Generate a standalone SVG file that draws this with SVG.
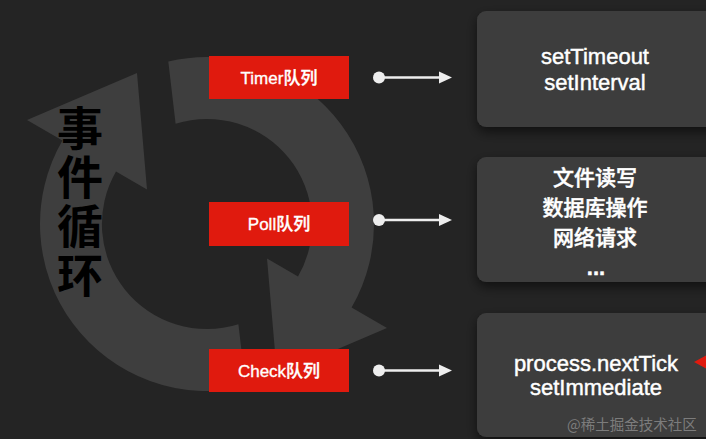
<svg xmlns="http://www.w3.org/2000/svg" xmlns:xlink="http://www.w3.org/1999/xlink" width="706" height="439" viewBox="0 0 706 439">
  <style>
    .bg { fill: #242424; }
    .ring { fill: #3e3e3e; }
    .queue { fill: #e01a0e; }
    .qtext { fill: #ffffff; stroke: #ffffff; stroke-width: 0.35; font-family: "Liberation Sans", "Noto Sans CJK SC", sans-serif; font-size: 17px; font-weight: 500; text-anchor: middle; }
    .card { fill: #3d3d3d; filter: url(#shadow); }
    .ctext { fill: #ffffff; stroke: #ffffff; stroke-width: 0.45; font-family: "Liberation Sans", "Noto Sans CJK SC", sans-serif; font-size: 22px; font-weight: 500; text-anchor: middle; }
    .cjk { font-size: 21px; }
    .dots { font-weight: 700; }
    .title { fill: #000000; font-family: "Noto Sans CJK SC", sans-serif; font-size: 46px; font-weight: 700; writing-mode: tb; letter-spacing: 3px; }
    .conn { stroke: #eeeeee; stroke-width: 2.5; fill: none; marker-start: url(#dot); marker-end: url(#arrow); }
    .mark { fill: #eeeeee; }
    .wm { fill: #7c7c7c; font-family: "Noto Sans CJK SC", sans-serif; font-size: 14.5px; }
  </style>
  <defs>
    <filter id="shadow" x="-10%" y="-20%" width="130%" height="150%">
      <feDropShadow dx="0" dy="5" stdDeviation="6" flood-color="#000000" flood-opacity="0.55"/>
    </filter>
    <marker id="arrow" markerUnits="userSpaceOnUse" markerWidth="14" markerHeight="14" refX="1" refY="7" orient="auto">
      <path class="mark" d="M0,1 L13,7 L0,13 Z"/>
    </marker>
    <marker id="dot" markerUnits="userSpaceOnUse" markerWidth="14" markerHeight="14" refX="7" refY="7" orient="auto">
      <circle class="mark" cx="7" cy="7" r="6"/>
    </marker>
    <path id="halfLoop" class="ring" d="M245.7,386.5 A167,167 0 0 1 62.4,140.5 L27,120 L137,73 L147,189.5 L116,171.5 A105,105 0 0 0 238.4,324.2 Z"/>
  </defs>

  <rect class="bg" x="0" y="0" width="706" height="439"/>

  <g id="loop">
    <use xlink:href="#halfLoop"/>
    <use xlink:href="#halfLoop" transform="rotate(180 207 224)"/>
  </g>

  <g id="title">
    <text class="title" x="80" y="105">事件循环</text>
  </g>

  <g id="timer-queue">
    <rect class="queue" x="209" y="56" width="140" height="43"/>
    <text class="qtext" x="279" y="83.5">Timer队列</text>
  </g>
  <g id="poll-queue">
    <rect class="queue" x="209" y="202" width="140" height="44"/>
    <text class="qtext" x="279" y="230">Poll队列</text>
  </g>
  <g id="check-queue">
    <rect class="queue" x="209" y="349" width="140" height="43"/>
    <text class="qtext" x="279" y="376.5">Check队列</text>
  </g>

  <g id="connectors">
    <line class="conn" x1="379" y1="77.5" x2="440" y2="77.5"/>
    <line class="conn" x1="379" y1="220" x2="440" y2="220"/>
    <line class="conn" x1="379" y1="370.5" x2="440" y2="370.5"/>
  </g>

  <g id="timers-card">
    <rect class="card" x="477" y="11" width="260" height="116" rx="9"/>
    <text class="ctext" x="595" y="64">setTimeout</text>
    <text class="ctext" x="595" y="90">setInterval</text>
  </g>
  <g id="poll-card">
    <rect class="card" x="477" y="157" width="260" height="125" rx="9"/>
    <text class="ctext cjk" x="595" y="185">文件读写</text>
    <text class="ctext cjk" x="595" y="215">数据库操作</text>
    <text class="ctext cjk" x="595" y="245">网络请求</text>
    <text class="ctext dots" x="596" y="275">...</text>
  </g>
  <g id="check-card">
    <rect class="card" x="477" y="313" width="260" height="124" rx="9"/>
    <text class="ctext" x="596" y="371">process.nextTick</text>
    <text class="ctext" x="596" y="395">setImmediate</text>
    <path id="red-pointer" fill="#e01a0e" d="M694,362 L714,351 L714,373 Z"/>
  </g>

  <text class="wm" x="567" y="430">@稀土掘金技术社区</text>
</svg>
